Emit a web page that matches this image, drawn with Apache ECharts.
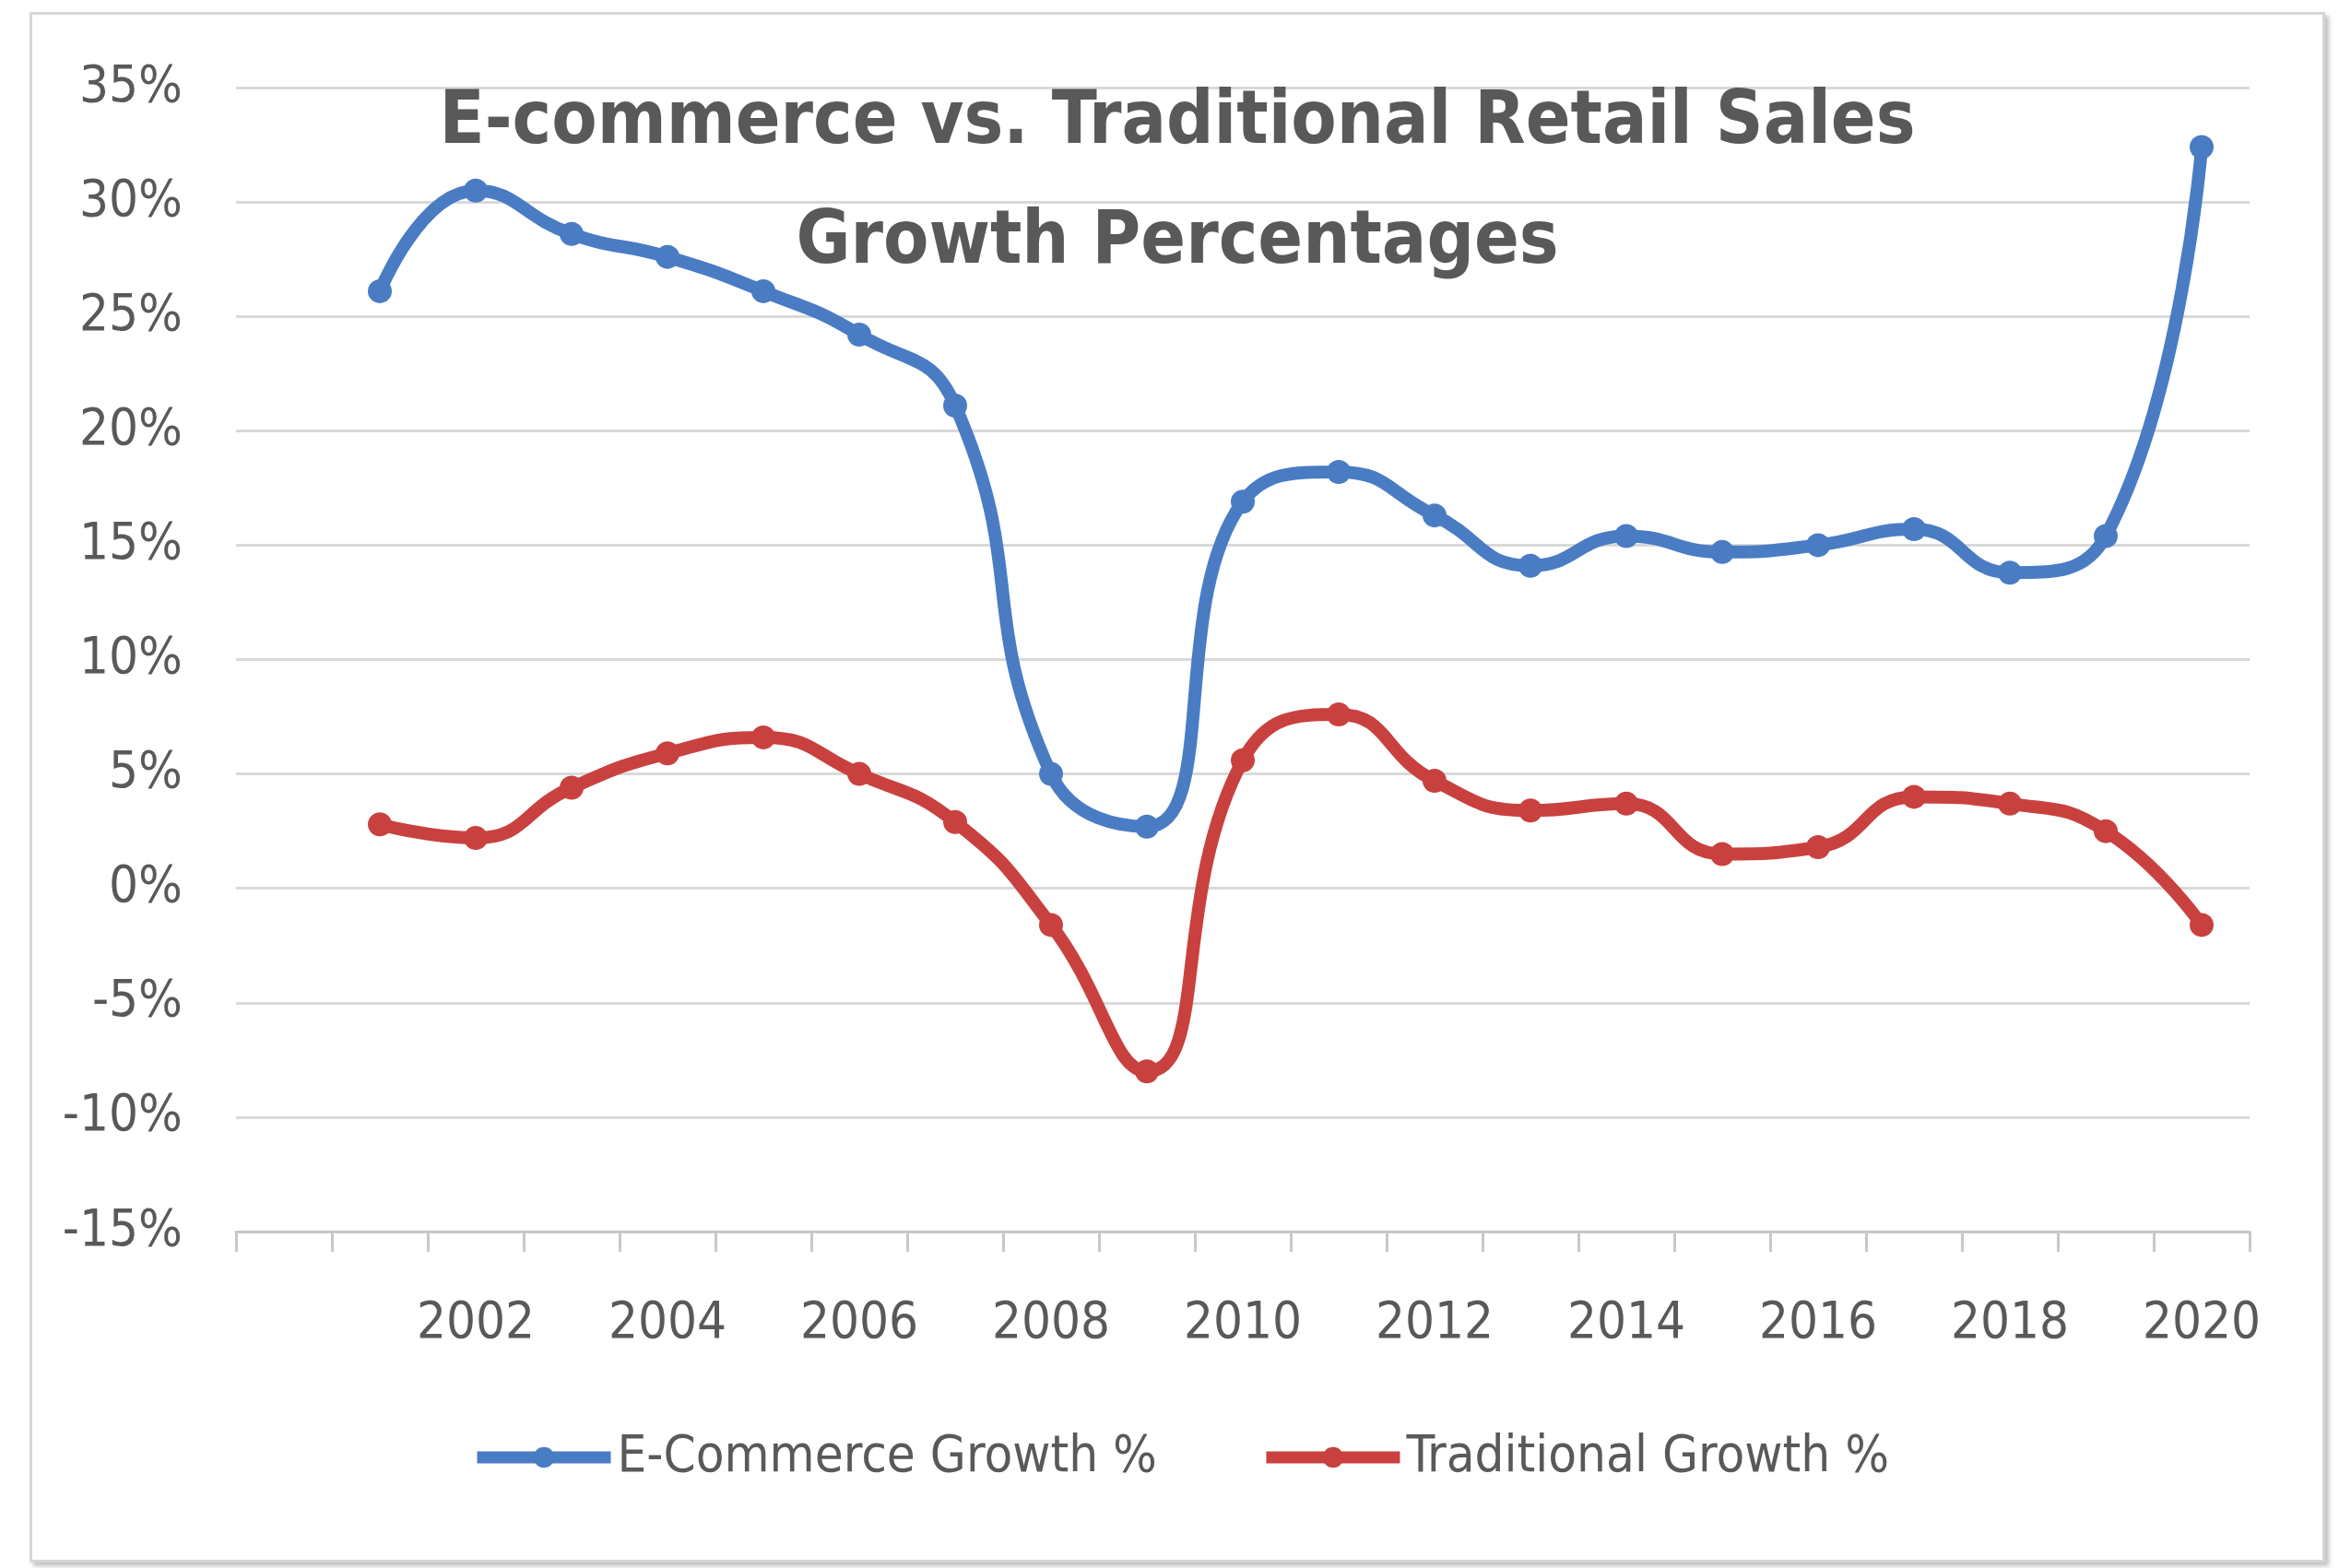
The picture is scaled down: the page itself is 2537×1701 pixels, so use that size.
<!DOCTYPE html>
<html>
<head>
<meta charset="utf-8">
<script src="https://cdn.jsdelivr.net/npm/echarts@6/dist/echarts.min.js"></script>
<style>
html, body { margin: 0; padding: 0; background: #ffffff; }
#frame { position: absolute; left: 32px; top: 13px; width: 2484px; height: 1676px; border: 3px solid #d6d6d6; box-shadow: 4px 4px 5px rgba(0,0,0,0.25); background: #fff; }
#chart { position: absolute; left: 0; top: 0; width: 2537px; height: 1701px; }
</style>
</head>
<body>
<div id="frame"></div>
<div id="chart"></div>
<script>
const years = ['2000','2001','2002','2003','2004','2005','2006','2007','2008','2009','2010','2011','2012','2013','2014','2015','2016','2017','2018','2019','2020'];
const ecommerceGrowth = [null, 26.1, 30.5, 28.6, 27.6, 26.1, 24.2, 21.1, 5.0, 2.7, 16.9, 18.2, 16.3, 14.1, 15.4, 14.7, 15.0, 15.7, 13.8, 15.4, 32.4];
const traditionalGrowth = [null, 2.8, 2.2, 4.4, 5.9, 6.6, 5.0, 2.9, -1.6, -8.0, 5.6, 7.6, 4.7, 3.4, 3.7, 1.5, 1.8, 4.0, 3.7, 2.5, -1.6];
const seriesNames = ['E-Commerce Growth %', 'Traditional Growth %'];
const titleText = 'E-commerce vs. Traditional Retail Sales\nGrowth Percentages';

const FONT = '"DejaVu Sans Condensed", "Liberation Sans", sans-serif';
const GRAY = '#595959';
const BLUE = '#4a7cc4';
const RED = '#c9413f';

const chart = echarts.init(document.getElementById('chart'), null, { renderer: 'canvas' });
chart.setOption({
  animation: false,
  backgroundColor: 'transparent',
  title: {
    text: titleText,
    left: 1272,
    top: 64,
    textAlign: 'center',
    textStyle: { fontFamily: FONT, fontWeight: 'bold', fontSize: 80, lineHeight: 130, color: GRAY }
  },
  legend: {
    left: 506,
    top: 1548,
    itemWidth: 145,
    itemHeight: 28,
    itemGap: 112,
    data: seriesNames,
    lineStyle: { width: 13 },
    textStyle: { fontFamily: FONT, fontSize: 56, color: GRAY, padding: [0, 0, 0, 2] }
  },
  grid: { left: 256, right: 97, top: 95, bottom: 365, containLabel: false },
  xAxis: {
    type: 'category',
    data: years,
    boundaryGap: true,
    axisLine: { onZero: false, lineStyle: { color: '#c8c8c8', width: 3 } },
    axisTick: { show: true, interval: 0, length: 22, lineStyle: { color: '#c8c8c8', width: 3 } },
    axisLabel: {
      interval: (index) => index > 0 && index % 2 === 0,
      margin: 72,
      fontFamily: FONT,
      fontSize: 56,
      color: GRAY
    },
    splitLine: { show: false }
  },
  yAxis: {
    type: 'value',
    min: -15,
    max: 35,
    interval: 5,
    axisLine: { show: false },
    axisTick: { show: false },
    axisLabel: {
      margin: 58,
      fontFamily: FONT,
      fontSize: 56,
      color: GRAY,
      formatter: (v) => v + '%'
    },
    splitLine: { lineStyle: { color: '#d9d9d9', width: 3 } }
  },
  series: [
    {
      name: seriesNames[0],
      type: 'line',
      data: ecommerceGrowth,
      smooth: 0.5,
      symbol: 'circle',
      symbolSize: 26,
      lineStyle: { width: 14, color: BLUE },
      itemStyle: { color: BLUE },
      z: 3
    },
    {
      name: seriesNames[1],
      type: 'line',
      data: traditionalGrowth,
      smooth: 0.5,
      symbol: 'circle',
      symbolSize: 26,
      lineStyle: { width: 14, color: RED },
      itemStyle: { color: RED },
      z: 3
    }
  ]
});
</script>
</body>
</html>
